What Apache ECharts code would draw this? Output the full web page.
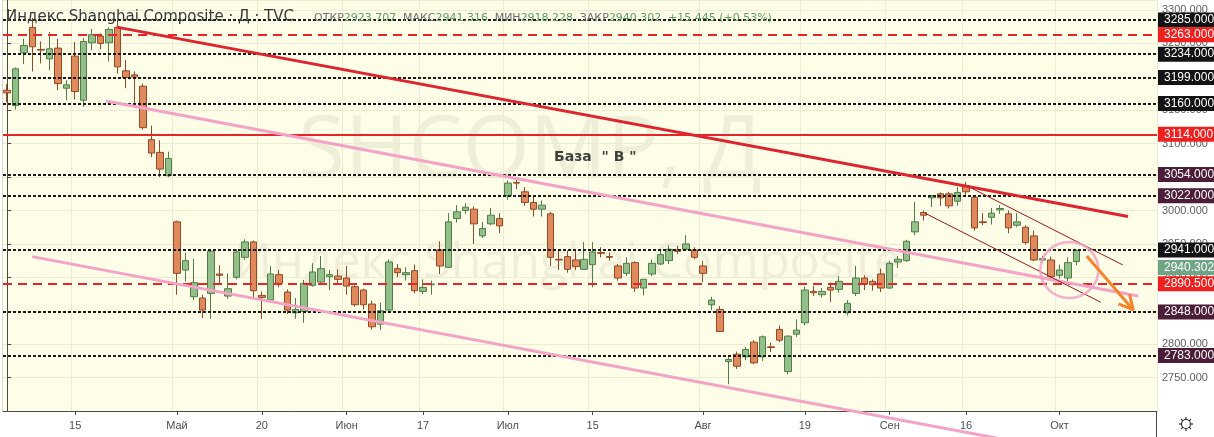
<!DOCTYPE html>
<html><head><meta charset="utf-8">
<script src="https://cdn.jsdelivr.net/npm/echarts@6/dist/echarts.min.js"></script>
<style>html,body{margin:0;padding:0;background:#fff;}#c{width:1214px;height:437px;}</style>
</head><body><div id="c"></div><script>
// ---------- DATA ----------
const dates = [
 '2019-04-02','2019-04-03','2019-04-04','2019-04-08','2019-04-09','2019-04-10','2019-04-11','2019-04-12','2019-04-15','2019-04-16','2019-04-17','2019-04-18','2019-04-19','2019-04-22','2019-04-23','2019-04-24','2019-04-25','2019-04-26','2019-04-29','2019-04-30',
 '2019-05-06','2019-05-07','2019-05-08','2019-05-09','2019-05-10','2019-05-13','2019-05-14','2019-05-15','2019-05-16','2019-05-17','2019-05-20','2019-05-21','2019-05-22','2019-05-23','2019-05-24','2019-05-27','2019-05-28','2019-05-29','2019-05-30','2019-05-31',
 '2019-06-03','2019-06-04','2019-06-05','2019-06-06','2019-06-10','2019-06-11','2019-06-12','2019-06-13','2019-06-14','2019-06-17','2019-06-18','2019-06-19','2019-06-20','2019-06-21','2019-06-24','2019-06-25','2019-06-26','2019-06-27','2019-06-28',
 '2019-07-01','2019-07-02','2019-07-03','2019-07-04','2019-07-05','2019-07-08','2019-07-09','2019-07-10','2019-07-11','2019-07-12','2019-07-15','2019-07-16','2019-07-17','2019-07-18','2019-07-19','2019-07-22','2019-07-23','2019-07-24','2019-07-25','2019-07-26','2019-07-29','2019-07-30','2019-07-31',
 '2019-08-01','2019-08-02','2019-08-05','2019-08-06','2019-08-07','2019-08-08','2019-08-09','2019-08-12','2019-08-13','2019-08-14','2019-08-15','2019-08-16','2019-08-19','2019-08-20','2019-08-21','2019-08-22','2019-08-23','2019-08-26','2019-08-27','2019-08-28','2019-08-29','2019-08-30',
 '2019-09-02','2019-09-03','2019-09-04','2019-09-05','2019-09-06','2019-09-09','2019-09-10','2019-09-11','2019-09-12','2019-09-16','2019-09-17','2019-09-18','2019-09-19','2019-09-20','2019-09-23','2019-09-24','2019-09-25','2019-09-26','2019-09-27','2019-09-30',
 '2019-10-08','2019-10-09','2019-10-10'
];
const opens = [
 3180,3157,3236,3274,3241,3227,3243,3183,3231,3165,3251,3261,3251,3274,3209,3203,3186,3106,3087,3052,
 2983,2911,2871,2869,2876,2905,2872,2900,2930,2953,2873,2866,2904,2878,2847,2849,2888,2893,2901,2902,
 2899,2886,2881,2860,2830,2851,2913,2904,2910,2879,2889,2941,2915,2988,3000,3002,2962,2980,2988,
 3022,3042,3028,3012,3002,2995,2927,2931,2926,2912,2919,2937,2931,2917,2906,2922,2884,2905,2920,2925,2941,2942,2941,
 2917,2859,2852,2774,2785,2781,2803,2781,2796,2822,2759,2815,2832,2879,2874,2885,2882,2847,2876,2899,2894,2905,
 2884,2923,2925,2968,2997,3019,3025,3025,3014,3037,3020,2983,2990,3001,2995,2978,2975,2962,2926,2926,
 2903,2899,2923.707
];
const highs = [
 3189,3214,3257,3288,3253,3267,3257,3195,3252,3258,3272,3265,3274,3285,3225,3208,3190,3127,3105,3088,
 2985,2937,2928,2874,2940,2918,2906,2942,2957,2955,2879,2917,2911,2882,2869,2896,2921,2932,2911,2912,
 2917,2888,2883,2865,2862,2927,2920,2915,2919,2897,2895,2954,2996,3008,3011,3006,2983,3004,2996,
 3045,3046,3035,3021,3015,2998,2941,2940,2940,2953,2953,2945,2937,2920,2930,2924,2898,2927,2942,2948,2947,2963,2945,
 2925,2871,2857,2784,2789,2796,2806,2813,2802,2828,2813,2837,2886,2887,2884,2892,2902,2866,2917,2903,2897,2913,
 2925,2932,2956,3013,3000,3023,3027,3028,3035,3043,3022,2996,3004,3008,3000,2996,2978,2970,2932,2931,
 2919,2930,2941.316
];
const lows = [
 3162,3151,3219,3208,3220,3210,3180,3165,3166,3155,3240,3241,3223,3205,3183,3161,3121,3080,3050,3050,
 2874,2894,2866,2839,2838,2891,2868,2897,2926,2870,2838,2864,2885,2845,2838,2832,2886,2891,2881,2890,
 2874,2856,2852,2822,2821,2850,2900,2895,2876,2875,2874,2905,2914,2982,2995,2950,2959,2978,2966,
 3016,3032,3007,2991,2991,2917,2911,2907,2911,2911,2885,2930,2925,2895,2902,2878,2873,2902,2918,2920,2935,2940,2927,
 2893,2851,2818,2740,2763,2776,2770,2775,2788,2803,2755,2811,2828,2872,2870,2863,2877,2843,2872,2881,2880,2878,
 2883,2914,2923,2963,2985,3005,3007,3003,3007,3022,2970,2978,2979,2995,2966,2975,2949,2924,2922,2897,
 2898,2891,2918.228
];
const closes = [
 3176,3212,3247,3245,3240,3242,3190,3188,3178,3253,3263,3250,3271,3215,3199,3200,3124,3086,3062,3078,
 2906,2925,2892,2851,2939,2903,2883,2938,2953,2880,2870,2905,2891,2851,2852,2891,2908,2913,2904,2897,
 2887,2859,2859,2826,2850,2923,2907,2907,2880,2885,2890,2917,2983,2998,3005,2980,2973,2993,2977,
 3041,3041,3012,3002,3008,2930,2926,2912,2916,2927,2938,2936,2930,2899,2921,2884,2897,2921,2934,2942,2939,2950,2930,
 2906,2866,2819,2777,2767,2792,2772,2811,2795,2806,2812,2821,2881,2877,2879,2881,2894,2861,2899,2890,2889,2884,
 2921,2927,2954,2983,2993,3022,3019,3007,3027,3028,2974,2982,2996,3003,2974,2983,2952,2926,2928,2901,
 2911,2922,2940.302
];
const slotCount = 136;                 // trading-day slots incl. empty right margin
const tickIdx  = [8, 20, 30, 40, 49, 59, 69, 82, 94, 104, 113, 124];
const tickText = ['15','Май','20','Июн','17','Июл','15','Авг','19','Сен','16','Окт'];
// horizontal levels
const levelValues = [3285, 3263, 3234, 3199, 3160, 3114, 3054, 3022, 2941, 2890.5, 2848, 2783];
const levelKinds  = ['dot','reddash','dot','dot','dot','redsolid','dot','dot','dot','reddash','dot','dot'];
const levelBoxes  = ['black','red','black','black','black','red','purple','purple','black','red','purple','purple'];
const lastPrice = 2940.302;
// drawings (x = bar slot, y = price)
const redTrend      = [[12.9, 3274.4], [132.09, 2990.9]];
const pinkUpper     = [[11.64, 3164], [133.27, 2872.2]];
const pinkLower     = [[2.92, 2931], [123.5, 2643]];
const channelUpper  = [[113.66, 3033.4], [131.46, 2918.6]];
const channelLower  = [[108.16, 2996], [128.87, 2862.7]];
const circleCenter  = [125.17, 2911];
const arrowShaft    = [[127.22, 2932], [132.71, 2851.2]];
const arrowHead     = [[130.97, 2860.2], [132.71, 2851.2], [132.26, 2874.4]];
const noteLabel     = [[69.3, 3079, 'База  " В "']];

// ---------- CHART ----------
const chart = echarts.init(document.getElementById('c'));
const categories = dates.concat(Array.from({length: slotCount - dates.length}, (_, k) => 'pad' + k));
const candleData = dates.map((d, i) => [opens[i], closes[i], lows[i], highs[i]]);
const tickMap = {}; tickIdx.forEach((ix, k) => { tickMap[ix] = tickText[k]; });
const isTick = (i) => tickMap[i] !== undefined;

const GRID = {left: 3, right: 57, top: 0, bottom: 26};
const BG = '#fdfde8';
const GRIDLINE = '#ececd3';

const levelStyle = {
  dot:      {color: '#1a1a1a', width: 2, type: [3, 2]},
  reddash:  {color: '#e8242b', width: 2, type: [9, 6]},
  redsolid: {color: '#e8242b', width: 2, type: 'solid'}
};
const boxColor = {black: '#131313', red: '#f0201f', purple: '#4b1d38'};

function lineSeries(pts, color, width, clip, z) {
  return {type: 'line', xAxisIndex: 1, yAxisIndex: 0, data: pts, symbol: 'none', silent: true,
    lineStyle: {color: color, width: width}, clip: clip, z: z || 6, animation: false};
}

chart.setOption({
  animation: false,
  backgroundColor: '#ffffff',
  grid: GRID,
  xAxis: [{
    type: 'category', data: categories, boundaryGap: true,
    axisLine: {show: true, lineStyle: {color: '#4a4a4a', width: 1}},
    axisTick: {show: true, interval: isTick, alignWithLabel: true, length: 4, lineStyle: {color: '#4a4a4a'}},
    axisLabel: {interval: isTick, formatter: (v, i) => tickMap[i] || '', color: '#4f4f4f', fontSize: 11,
      fontFamily: 'Liberation Sans Narrow, Liberation Sans, Arial', margin: 9},
    splitLine: {show: true, interval: isTick, lineStyle: {color: GRIDLINE, width: 1}}
  }, {
    type: 'value', min: -0.5, max: slotCount - 0.5, show: false
  }],
  yAxis: [{
    type: 'value', position: 'right', min: 2700, max: 3315, interval: 50, scale: true,
    axisLine: {show: true, lineStyle: {color: '#4a4a4a', width: 1}},
    axisTick: {show: true, length: 4, lineStyle: {color: '#4a4a4a'}},
    axisLabel: {formatter: v => v.toFixed(3), color: '#606060', fontSize: 11,
      fontFamily: 'Liberation Sans, Arial', margin: 5, showMinLabel: false, showMaxLabel: false},
    splitLine: {show: true, lineStyle: {color: GRIDLINE, width: 1}}
  }],
  series: [
    {
      type: 'candlestick', xAxisIndex: 0, yAxisIndex: 0, data: candleData, barWidth: 7, z: 3,
      itemStyle: {color: '#93bf8b', color0: '#df8a5d', borderColor: '#4f7e47', borderColor0: '#944826', borderWidth: 1}
    },
    {
      type: 'line', xAxisIndex: 1, yAxisIndex: 0, data: [], z: 4, silent: true,
      markLine: {
        silent: true, symbol: 'none', animation: false, label: {show: false},
        data: levelValues.map((v, i) => ({yAxis: v, lineStyle: levelStyle[levelKinds[i]]}))
      }
    },
    lineSeries(pinkUpper, '#f4a3c6', 3, true),
    lineSeries(pinkLower, '#f4a3c6', 3, false),
    lineSeries(redTrend, '#dd2530', 3, true),
    lineSeries(channelUpper, '#a3161b', 1, true),
    lineSeries(channelLower, '#a3161b', 1, true),
    lineSeries(arrowShaft, '#f5842b', 3, false, 7),
    lineSeries(arrowHead, '#f5842b', 3, false, 7),
    {
      type: 'scatter', xAxisIndex: 1, yAxisIndex: 0, data: [circleCenter], symbol: 'circle', symbolSize: [58, 56],
      itemStyle: {color: 'rgba(0,0,0,0)', borderColor: '#f39dc4', borderWidth: 2.5}, z: 6, silent: true
    },
    {
      type: 'scatter', xAxisIndex: 1, yAxisIndex: 0, data: noteLabel, symbolSize: 0, z: 7, silent: true,
      label: {show: true, position: 'inside', formatter: p => p.data[2], color: '#111', fontSize: 14,
        fontWeight: 'bold', fontFamily: 'DejaVu Sans, Arial'}
    }
  ]
});

// ---------- overlays (background, watermark, legend, price tags) ----------
const W = 1214, H = 437;
const gx0 = GRID.left, gx1 = W - GRID.right, gy1 = H - GRID.bottom;
const elements = [
  {type: 'rect', z: -100, silent: true, shape: {x: gx0, y: 0, width: gx1 - gx0, height: gy1}, style: {fill: BG}},
  {type: 'line', z: -99, silent: true, shape: {x1: 2.5, y1: 0, x2: 2.5, y2: gy1}, style: {stroke: '#d8d8d8', lineWidth: 1}},
  {type: 'text', z: -90, silent: true, x: 530, y: 152, style: {text: 'SHCOMP, Д', fill: 'rgba(60,60,40,0.075)',
    font: '86px "Open Sans", "DejaVu Sans", sans-serif', align: 'center', verticalAlign: 'middle'}},
  {type: 'text', z: -90, silent: true, x: 568, y: 264, style: {text: 'Индекс Shanghai Composite', fill: 'rgba(60,60,40,0.075)',
    font: '50px "Open Sans", "DejaVu Sans", sans-serif', align: 'center', verticalAlign: 'middle'}},
  {type: 'text', z: 50, silent: true, x: 6, y: 17, style: {text: 'Индекс Shanghai Composite · Д · TVC', fill: '#3a3a3a',
    font: '15px "DejaVu Sans", sans-serif', verticalAlign: 'middle'}},
  {type: 'text', z: 50, silent: true, x: 314, y: 18, style: {
    text: '{k|ОТКР}{v|2923.707}  {k|МАКС}{v|2941.316}  {k|МИН}{v|2918.228}  {k|ЗАКР}{v|2940.302}  {v|+15.445 (+0.53%)}',
    verticalAlign: 'middle',
    rich: {k: {fill: '#6f6f6f', font: '11px "DejaVu Sans", sans-serif'}, v: {fill: '#5e9f66', font: '11px "DejaVu Sans", sans-serif'}}}},
  {type: 'line', z: 50, silent: true, shape: {x1: gx1 - 0.5, y1: gy1, x2: gx1 - 0.5, y2: H}, style: {stroke: '#4a4a4a', lineWidth: 1}},
  {type: 'circle', z: 50, silent: true, shape: {cx: 1186, cy: 424, r: 4.5}, style: {fill: 'none', stroke: '#333', lineWidth: 1.2}}
];
for (let k = 0; k < 8; k++) {
  const a = k * Math.PI / 4;
  elements.push({type: 'line', z: 50, silent: true, shape: {x1: 1186 + Math.cos(a) * 4.5, y1: 424 + Math.sin(a) * 4.5,
    x2: 1186 + Math.cos(a) * 7, y2: 424 + Math.sin(a) * 7}, style: {stroke: '#333', lineWidth: 1.2}});
}
function tag(v, bg, dy) {
  const py = chart.convertToPixel({yAxisIndex: 0}, v) + (dy || 0);
  elements.push({type: 'text', z: 60, silent: true, x: gx1 + 1, y: py, style: {
    text: v.toFixed(3), fill: '#ffffff', font: '12px "Liberation Sans", Arial, sans-serif',
    backgroundColor: bg, padding: [2, 5, 1, 6], verticalAlign: 'middle', align: 'left'}});
}
levelValues.forEach((v, i) => tag(v, boxColor[levelBoxes[i]]));
tag(lastPrice, '#6fa584', 17);
chart.setOption({graphic: {elements: elements}});
</script></body></html>
